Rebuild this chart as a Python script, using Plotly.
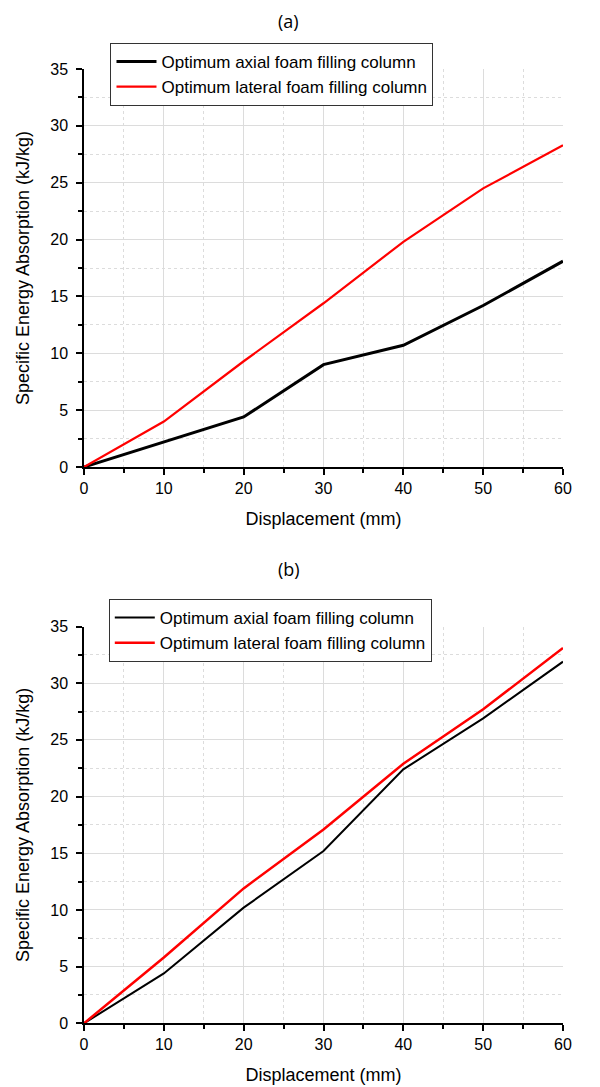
import plotly.graph_objects as go

disp = [0, 10, 20, 30, 40, 50, 60]
a_axial = [0, 2.2, 4.4, 9.0, 10.7, 14.2, 18.1]
a_lateral = [0, 4.0, 9.3, 14.4, 19.8, 24.5, 28.3]
b_axial = [0, 4.4, 10.2, 15.2, 22.4, 26.9, 31.9]
b_lateral = [0, 5.8, 11.9, 17.1, 22.9, 27.7, 33.1]
names = ["Optimum axial foam filling column", "Optimum lateral foam filling column"]

OFF = 8  # page body margin
W, H = 600 - OFF, 1087 - OFF
L = 83.5 - OFF
R = W - (562.7 - OFF)
FONT = "Liberation Sans, Arial, sans-serif"

def py(p):
    return 1 - (p - OFF) / H

def px(p):
    return (p - OFF - L) / (W - L - R)

fig = go.Figure()
fig.add_trace(go.Scatter(x=disp, y=a_axial, mode="lines", name=names[0],
                         line=dict(color="#000000", width=3), xaxis="x", yaxis="y", legend="legend"))
fig.add_trace(go.Scatter(x=disp, y=a_lateral, mode="lines", name=names[1],
                         line=dict(color="#ff0000", width=2.2), xaxis="x", yaxis="y", legend="legend"))
fig.add_trace(go.Scatter(x=disp, y=b_axial, mode="lines", name=names[0],
                         line=dict(color="#000000", width=2), xaxis="x2", yaxis="y2", legend="legend2"))
fig.add_trace(go.Scatter(x=disp, y=b_lateral, mode="lines", name=names[1],
                         line=dict(color="#ff0000", width=2.5), xaxis="x2", yaxis="y2", legend="legend2"))

def xax(anchor):
    return dict(range=[0, 60], dtick=10, tick0=0, anchor=anchor, domain=[0, 1],
                automargin=False,
                showline=True, linecolor="black", linewidth=1.5, ticks="outside", ticklen=6,
                tickwidth=1.5, tickcolor="black", showgrid=True, gridcolor="#dcdcdc", gridwidth=1,
                zeroline=False, tickfont=dict(family=FONT, size=16, color="black"),
                minor=dict(dtick=5, tick0=0, ticks="outside", ticklen=4, tickcolor="black",
                           showgrid=True, gridcolor="#dcdcdc", griddash="dot", gridwidth=1),
                title=dict(text="Displacement (mm)", font=dict(family=FONT, size=18, color="black"),
                           standoff=16))

def yax(anchor, dom):
    return dict(range=[0, 35], dtick=5, tick0=0, anchor=anchor, domain=dom,
                automargin=False,
                showline=True, linecolor="black", linewidth=1.5, ticks="outside", ticklen=6,
                tickwidth=1.5, tickcolor="black", showgrid=True, gridcolor="#dcdcdc", gridwidth=1,
                zeroline=False, tickfont=dict(family=FONT, size=16, color="black"),
                ticklabelstandoff=5,
                minor=dict(dtick=2.5, tick0=0, ticks="outside", ticklen=4, tickcolor="black",
                           showgrid=True, gridcolor="#dcdcdc", griddash="dot", gridwidth=1),
                title=dict(text="Specific Energy Absorption (kJ/kg)",
                           font=dict(family=FONT, size=18, color="black"), standoff=16))

leg = dict(font=dict(family=FONT, size=17, color="black"), bgcolor="white",
           bordercolor="#333333", borderwidth=1, xanchor="left", yanchor="top",
           tracegroupgap=0, itemwidth=40)

fig.update_layout(
    width=W, height=H, autosize=False,
    margin=dict(l=L, r=R, t=0, b=0, pad=0),
    paper_bgcolor="white", plot_bgcolor="white",
    showlegend=True,
    xaxis=xax("y"), yaxis=yax("x", [py(467), py(69)]),
    xaxis2=xax("y2"), yaxis2=yax("x2", [py(1023.3), py(626.5)]),
    legend=dict(leg, x=px(110), y=py(43)),
    legend2=dict(leg, x=px(108.3), y=py(599)),
    annotations=[
        dict(text="(a)", x=px(288.5), y=py(8.5), xref="paper", yref="paper",
             showarrow=False, font=dict(family="Open Sans, sans-serif", size=18, color="black"),
             xanchor="center", yanchor="top", borderpad=0),
        dict(text="(b)", x=px(289), y=py(569), xref="paper", yref="paper",
             showarrow=False, font=dict(family="Open Sans, sans-serif", size=18, color="black"),
             xanchor="center", yanchor="middle"),
    ],
)

fig.write_html("out.html")
